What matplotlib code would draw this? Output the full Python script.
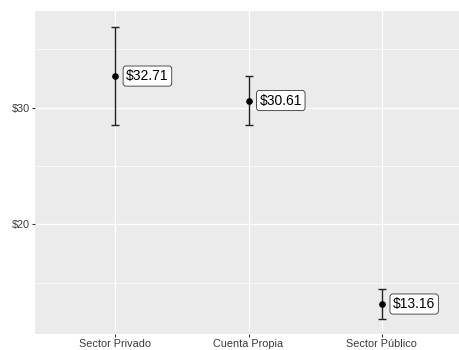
import matplotlib.pyplot as plt
from matplotlib.ticker import FixedLocator

# Salario horario promedio por sector con intervalos
sectores = ["Sector Privado", "Cuenta Propia", "Sector Público"]
media = [32.71, 30.61, 13.16]
limite_inf = [28.55, 28.55, 11.87]
limite_sup = [36.95, 32.75, 14.45]
etiquetas = ["$32.71", "$30.61", "$13.16"]

y_ticks = [20, 30]
y_ticklabels = ["$20", "$30"]

plt.rcParams["font.family"] = ["Liberation Sans", "DejaVu Sans"]

fig = plt.figure(figsize=(4.59, 3.5), dpi=100)
ax = fig.add_axes([35 / 459, 16 / 350, 427 / 459, 323 / 350])

pos = [1, 2, 3]
err_low = [m - lo for m, lo in zip(media, limite_inf)]
err_high = [hi - m for m, hi in zip(media, limite_sup)]

ax.errorbar(
    pos, media,
    yerr=[err_low, err_high],
    fmt="o",
    color="black",
    ecolor="#222222",
    elinewidth=1.0,
    capsize=2.9,
    capthick=1.0,
    markersize=3.8,
    zorder=3
)

# Etiquetas con el valor
for x, m, lab in zip(pos, media, etiquetas):
    ax.annotate(
        lab,
        xy=(x, m),
        xytext=(8, 0),
        textcoords="offset points",
        ha="left",
        va="center",
        fontsize=10,
        color="black",
        bbox=dict(
            boxstyle="round,pad=0.22,rounding_size=0.2",
            facecolor="white",
            edgecolor="#333333",
            linewidth=0.6
        ),
        zorder=4
    )

# Estilo tipo ggplot gris
ax.set_facecolor("#EBEBEB")
for spine in ax.spines.values():
    spine.set_visible(False)

ax.set_xlim(0.4, 3.6)
ax.set_ylim(10.59, 38.29)
ax.set_xticks(pos)
ax.set_xticklabels(sectores)
ax.set_yticks(y_ticks)
ax.set_yticklabels(y_ticklabels)
ax.yaxis.set_minor_locator(FixedLocator([15, 25, 35]))

ax.grid(True, which="major", color="white", linewidth=1.0)
ax.grid(True, which="minor", axis="y", color="white", linewidth=0.5)
ax.set_axisbelow(True)

ax.tick_params(
    axis="both", which="major",
    length=2.2, width=0.8, color="#333333",
    labelsize=7.8, labelcolor="#3A3A3A", pad=1.2
)
ax.tick_params(axis="y", which="minor", length=0)

plt.savefig("out.png", dpi=100)
plt.close()
